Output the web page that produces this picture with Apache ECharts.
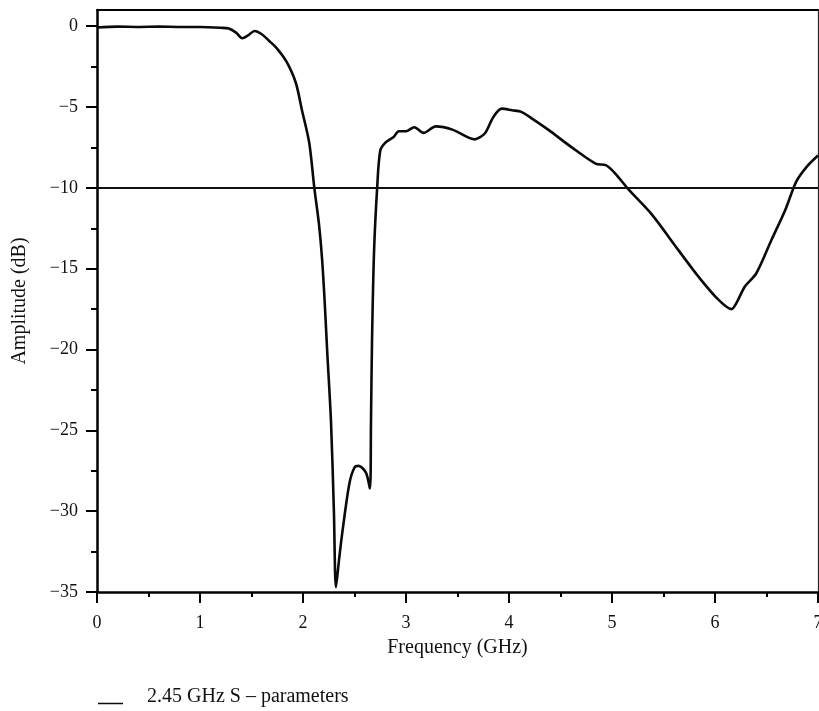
<!DOCTYPE html>
<html>
<head>
<meta charset="utf-8">
<script src="https://cdn.jsdelivr.net/npm/echarts@6/dist/echarts.min.js"></script>
<style>
  html, body { margin: 0; padding: 0; background: #fff; }
  #chart { width: 819px; height: 711px; }
</style>
</head>
<body>
<div id="chart"></div>
<script>
// ---- data ----
var freqGHz = [0, 0.2, 0.4, 0.6, 0.8, 1.0, 1.2, 1.28, 1.35, 1.41, 1.47, 1.53, 1.60, 1.67, 1.75, 1.84, 1.93, 1.99, 2.06, 2.11, 2.156, 2.185, 2.21, 2.234, 2.272, 2.30, 2.32, 2.35, 2.38, 2.45, 2.50, 2.54, 2.61, 2.65, 2.66, 2.67, 2.69, 2.72, 2.75, 2.80, 2.88, 2.93, 3.00, 3.08, 3.17, 3.29, 3.45, 3.67, 3.71, 3.77, 3.85, 3.93, 4.03, 4.12, 4.22, 4.38, 4.61, 4.84, 4.94, 5.03, 5.16, 5.38, 5.65, 5.84, 6.03, 6.16, 6.21, 6.29, 6.40, 6.55, 6.68, 6.79, 6.89, 7.0];
var amplitudeDB = [-0.08, -0.03, -0.05, -0.03, -0.05, -0.05, -0.1, -0.15, -0.4, -0.75, -0.55, -0.3, -0.5, -0.9, -1.4, -2.2, -3.5, -5.2, -7.2, -10.0, -12.3, -14.4, -17.0, -20.0, -24.5, -30.0, -34.7, -33.0, -31.4, -28.3, -27.3, -27.2, -27.6, -28.6, -24.5, -19.5, -13.9, -10.0, -7.7, -7.2, -6.85, -6.5, -6.5, -6.25, -6.6, -6.2, -6.4, -7.0, -6.9, -6.6, -5.6, -5.1, -5.2, -5.3, -5.7, -6.4, -7.5, -8.5, -8.6, -9.1, -10.1, -11.6, -13.9, -15.5, -16.9, -17.5, -17.1, -16.1, -15.3, -13.2, -11.4, -9.6, -8.7, -8.0];
var thresholdDB = -10;
var yMajorTicks = [-35, -30, -25, -20, -15, -10, -5, 0];
var yMinorTicks = [-32.5, -27.5, -22.5, -17.5, -12.5, -7.5, -2.5];
var seriesName = '2.45 GHz S \u2013 parameters';
var xAxisName = 'Frequency (GHz)';
var yAxisName = 'Amplitude (dB)';

var FONT = '"Liberation Serif", "Times New Roman", serif';
var BLACK = '#000';

function fmt(v) { return String(v).replace('-', '\u2212'); }

var data = freqGHz.map(function (f, i) { return [f, amplitudeDB[i]]; });

var chart = echarts.init(document.getElementById('chart'), null, { renderer: 'canvas' });
chart.setOption({
  animation: false,
  backgroundColor: '#fff',
  grid: { left: 97, right: 1, top: 10, bottom: 119, containLabel: false, outerBoundsMode: 'none' },
  legend: {
    show: true,
    left: 93,
    top: 682,
    icon: 'path://M0,0 L0.05,0 L0.05,0.05 L0,0.05 Z M0,13 L25,13 L25,14.5 L0,14.5 Z',
    itemWidth: 25,
    itemHeight: 14.5,
    itemGap: 10,
    data: [seriesName],
    textStyle: { fontFamily: FONT, fontSize: 20, color: '#111', padding: [2, 0, 0, 19] }
  },
  xAxis: [{
    type: 'value',
    min: 0, max: 7, interval: 1,
    name: xAxisName,
    nameLocation: 'middle',
    nameGap: 46,
    nameTextStyle: { fontFamily: FONT, fontSize: 20, color: '#111' },
    axisLine: { show: true, onZero: false, lineStyle: { color: BLACK, width: 2.5 } },
    axisTick: { show: true, length: 11, lineStyle: { color: BLACK, width: 2 } },
    minorTick: { show: true, splitNumber: 2, length: 5, lineStyle: { color: BLACK, width: 2 } },
    axisLabel: { margin: 22, fontFamily: FONT, fontSize: 18, color: '#111', formatter: fmt },
    splitLine: { show: false }
  }, {
    type: 'value', position: 'top', min: 0, max: 7,
    axisLine: { show: true, onZero: false, lineStyle: { color: BLACK, width: 2 } },
    axisTick: { show: false }, axisLabel: { show: false }, splitLine: { show: false }
  }],
  yAxis: [{
    type: 'value',
    min: -35, max: 1,
    position: 'left',
    name: yAxisName,
    nameLocation: 'middle',
    nameGap: 67,
    nameTextStyle: { fontFamily: FONT, fontSize: 20, color: '#111' },
    axisLine: { show: true, onZero: false, lineStyle: { color: BLACK, width: 2.5 } },
    axisTick: { show: true, length: 11, customValues: yMajorTicks, lineStyle: { color: BLACK, width: 2 } },
    axisLabel: { margin: 19, customValues: yMajorTicks, fontFamily: FONT, fontSize: 18, color: '#111', formatter: fmt },
    splitLine: { show: false }
  }, {
    type: 'value',
    min: -35, max: 1,
    position: 'left',
    axisLine: { show: false },
    axisTick: { show: true, length: 6, customValues: yMinorTicks, lineStyle: { color: BLACK, width: 2 } },
    axisLabel: { show: false },
    splitLine: { show: false }
  }, {
    type: 'value',
    min: -35, max: 1,
    position: 'right',
    axisLine: { show: true, onZero: false, lineStyle: { color: '#222', width: 1.2 } },
    axisTick: { show: false }, axisLabel: { show: false }, splitLine: { show: false }
  }],
  series: [{
    name: seriesName,
    type: 'line',
    xAxisIndex: 0,
    yAxisIndex: 0,
    data: data,
    showSymbol: false,
    symbol: 'none',
    smooth: 0.3,
    lineStyle: { color: '#0a0a0a', width: 2.6 },
    itemStyle: { color: '#0a0a0a' },
    markLine: {
      silent: true,
      symbol: ['none', 'none'],
      label: { show: false },
      lineStyle: { color: '#111', width: 2, type: 'solid' },
      data: [{ yAxis: thresholdDB }]
    }
  }]
});
</script>
</body>
</html>
